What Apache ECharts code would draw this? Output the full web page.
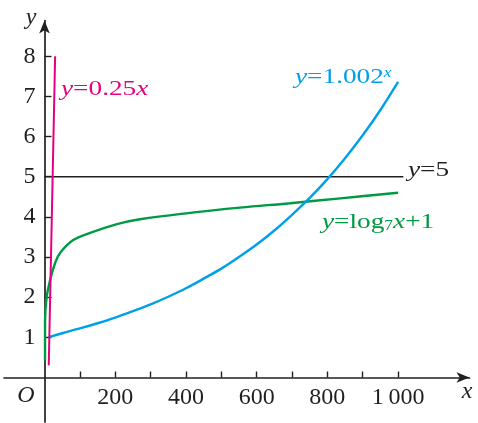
<!DOCTYPE html>
<html lang="en">
<head>
    <meta charset="UTF-8">
    <script src="https://cdn.jsdelivr.net/npm/echarts@6/dist/echarts.min.js"></script>
    <title>Growth comparison</title>
    <style>
      html, body { margin: 0; padding: 0; background: #fff; }
      #main { width: 478px; height: 423px; }
    </style>
</head>
<body>
  <div id="main"></div>
  <script>
    // tick positions / labels
    var xTickValues = [100, 200, 300, 400, 500, 600, 700, 800, 900, 1000];
    var xLabelValues = [200, 400, 600, 800, 1000];
    var yTickValues = [1, 2, 3, 4, 5, 6, 7, 8];

    // curves
    var lineY5 = [[0, 5], [1015, 5]];
    var lineLinear = [[12, 0.3], [30, 8]];
    var curveExp = [[10, 1.0], [50, 1.10], [100, 1.22], [150, 1.35], [200, 1.49], [250, 1.65],
      [300, 1.82], [350, 2.01], [400, 2.22], [450, 2.46], [500, 2.71], [550, 3.0], [600, 3.31],
      [650, 3.66], [700, 4.05], [750, 4.47], [800, 4.94], [850, 5.46], [900, 6.03], [950, 6.66],
      [1000, 7.36]];
    var curveLog = [[1.4, 0.42], [1.5, 1.4], [6, 2.0], [16, 2.43], [30, 2.85], [44, 3.1],
      [81, 3.42], [129, 3.6], [205, 3.82], [270, 3.94], [412, 4.10], [553, 4.23], [695, 4.34],
      [837, 4.46], [1000, 4.60]];

    var serif = "'Liberation Serif', 'Times New Roman', serif";
    var ink = '#231f20';
    var magenta = '#e4007f', cyan = '#00a0e9', green = '#009944';

    // axis placement: zero of each axis inside the grid
    var gridLeft = 4, gridRight = 8.5, gridTop = 20.5, gridBottom = 1;
    var xZeroOffset = 44.5;  // px from grid bottom edge up to y = 0
    var yZeroOffset = 40.5;  // px from grid left edge right to x = 0

    var myChart = echarts.init(document.getElementById('main'), null, { renderer: 'canvas' });

    function richStyle(color) {
      return {
        i: { fontFamily: serif, fontSize: 22, fontStyle: 'italic', fill: color, color: color },
        n: { fontFamily: serif, fontSize: 22, fill: color, color: color },
        sub: { fontFamily: serif, fontSize: 14, fill: color, color: color, verticalAlign: 'bottom', lineHeight: 12 },
        sup: { fontFamily: serif, fontSize: 14, fontStyle: 'italic', fill: color, color: color, verticalAlign: 'top', lineHeight: 12 }
      };
    }

    function label(x, y, text, color) {
      return {
        type: 'text', x: x, y: y, scaleX: 1.24, silent: true,
        style: {
          text: text, rich: richStyle(color),
          fill: color, verticalAlign: 'middle', align: 'left',
          font: '22px ' + serif
        }
      };
    }

    myChart.setOption({
      animation: false,
      grid: { left: gridLeft, right: gridRight, top: gridTop, bottom: gridBottom,
        containLabel: false, outerBoundsMode: 'none' },
      xAxis: {
        type: 'value', min: -114.6, max: 1202, position: 'bottom', offset: -xZeroOffset,
        axisLine: {
          onZero: false, symbol: ['none', 'arrow'], symbolSize: [8, 13],
          lineStyle: { color: ink, width: 1.7 }
        },
        axisTick: { customValues: xTickValues, inside: true, length: 6, lineStyle: { color: ink, width: 1.4 } },
        axisLabel: {
          customValues: xLabelValues, margin: 8, color: ink, fontFamily: serif, fontSize: 24,
          formatter: function (v) { return v === 1000 ? '1\u2009000' : String(v); }
        },
        splitLine: { show: false }
      },
      yAxis: {
        type: 'value', min: -1.11, max: 8.89, position: 'left', offset: -yZeroOffset,
        axisLine: {
          onZero: false, symbol: ['none', 'arrow'], symbolSize: [8, 13],
          lineStyle: { color: ink, width: 1.7 }
        },
        axisTick: { customValues: yTickValues, inside: true, length: 7, lineStyle: { color: ink, width: 1.4 } },
        axisLabel: { customValues: yTickValues, margin: 9, color: ink, fontFamily: serif, fontSize: 24 },
        splitLine: { show: false }
      },
      graphic: [
        { type: 'text', x: 26, y: 396, silent: true,
          style: { text: 'O', font: 'italic 24px ' + serif, fill: ink, align: 'center', verticalAlign: 'middle' } },
        { type: 'text', x: 467, y: 392, silent: true,
          style: { text: 'x', font: 'italic 24px ' + serif, fill: ink, align: 'center', verticalAlign: 'middle' } },
        { type: 'text', x: 31, y: 18, silent: true,
          style: { text: 'y', font: 'italic 24px ' + serif, fill: ink, align: 'center', verticalAlign: 'middle' } },
        label(61, 89, '{i|y}{n|=0.25}{i|x}', magenta),
        label(295, 77, '{i|y}{n|=1.002}{sup|x}', cyan),
        label(408, 170, '{i|y}{n|=5}', ink),
        label(322, 222, '{i|y}{n|=log}{sub|7}{i|x}{n|+1}', green)
      ],
      series: [
        { type: 'line', data: lineY5, symbol: 'none', silent: true,
          lineStyle: { color: ink, width: 1.5 } },
        { type: 'line', data: curveLog, symbol: 'none', smooth: 0.4, silent: true,
          lineStyle: { color: green, width: 2.4 } },
        { type: 'line', data: curveExp, symbol: 'none', smooth: 0.3, silent: true,
          lineStyle: { color: cyan, width: 2.4 } },
        { type: 'line', data: lineLinear, symbol: 'none', silent: true,
          lineStyle: { color: magenta, width: 2 } }
      ]
    });
  </script>
</body>
</html>
